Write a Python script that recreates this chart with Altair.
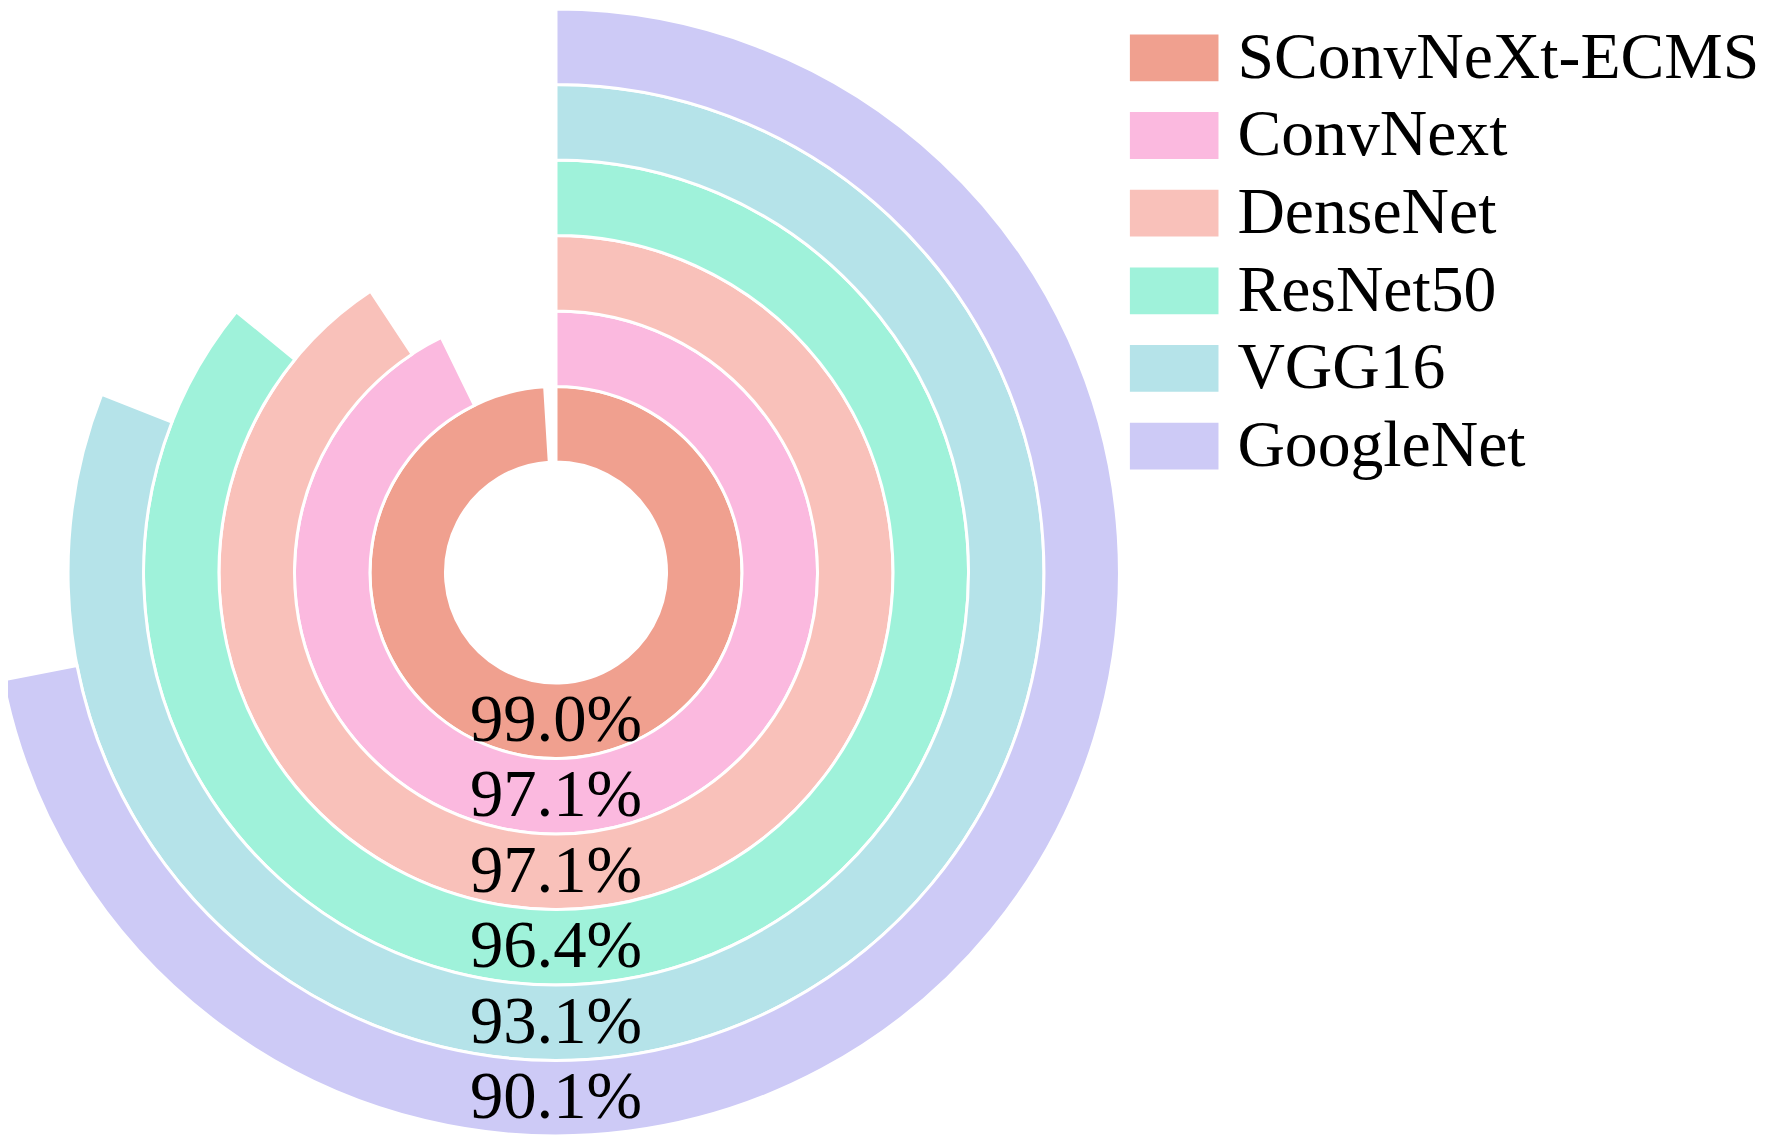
import altair as alt
import pandas as pd

# ---- data ----
models = ["SConvNeXt-ECMS", "ConvNext", "DenseNet", "ResNet50", "VGG16", "GoogleNet"]
accuracy_labels = ["99.0%", "97.1%", "97.1%", "96.4%", "93.1%", "90.1%"]
# swept angle of each ring (degrees, clockwise from 12 o'clock) as drawn
sweep_deg = [356.5, 334.0, 326.6, 309.2, 291.4, 259.0]
colors = ["#F0A08F", "#FBB9DF", "#F9C1BA", "#9FF2DA", "#B5E3E9", "#CDCAF6"]

HOLE = 1.464  # size of the empty centre, in ring units

rows = []
for i, (m, lab, sw) in enumerate(zip(models, accuracy_labels, sweep_deg)):
    rows.append({
        "model": m,
        "label": lab,
        "sweep": sw,
        "start": 0,
        "bottom": 180,
        "r_in": i + HOLE,
        "r_out": i + 1 + HOLE,
        "r_mid": i + 0.5 + HOLE,
    })
df = pd.DataFrame(rows)

theta_scale = alt.Scale(domain=[0, 360], range=[0, 6.283185307])
radius_scale = alt.Scale(type="linear", domain=[0, 6 + HOLE], range=[0, 566])

legend = alt.Legend(
    title=None,
    orient="none",
    legendX=1127,
    legendY=3,
    padding=0,
    symbolType="M-1,-0.528H1V0.528H-1Z",
    symbolSize=7921,
    symbolStrokeWidth=0,
    symbolOpacity=1,
    labelFont="Liberation Serif",
    labelFontSize=66,
    labelColor="black",
    labelLimit=1000,
    labelOffset=19,
    rowPadding=-3,
)

base = alt.Chart(df)

arcs = base.mark_arc(stroke="white", strokeWidth=3).encode(
    theta=alt.Theta("sweep:Q", scale=theta_scale, stack=False),
    theta2=alt.Theta2("start:Q"),
    radius=alt.Radius("r_out:Q", scale=radius_scale),
    radius2=alt.Radius2("r_in:Q"),
    color=alt.Color("model:N", scale=alt.Scale(domain=models, range=colors), legend=legend),
)

labels = base.mark_text(
    font="Liberation Serif", fontSize=67, color="black", align="center", baseline="middle"
).encode(
    theta=alt.Theta("bottom:Q", scale=theta_scale, stack=False),
    radius=alt.Radius("r_mid:Q", scale=radius_scale),
    text=alt.Text("label:N"),
)

chart = (
    alt.layer(arcs, labels)
    .properties(
        width=1101,
        height=1129,
        autosize=alt.AutoSizeParams(type="none"),
        padding={"left": 0, "top": 0, "right": 663, "bottom": 0},
    )
    .configure_view(strokeWidth=0)
)

chart.save("out.html", embed_options={"renderer": "svg", "actions": False})
